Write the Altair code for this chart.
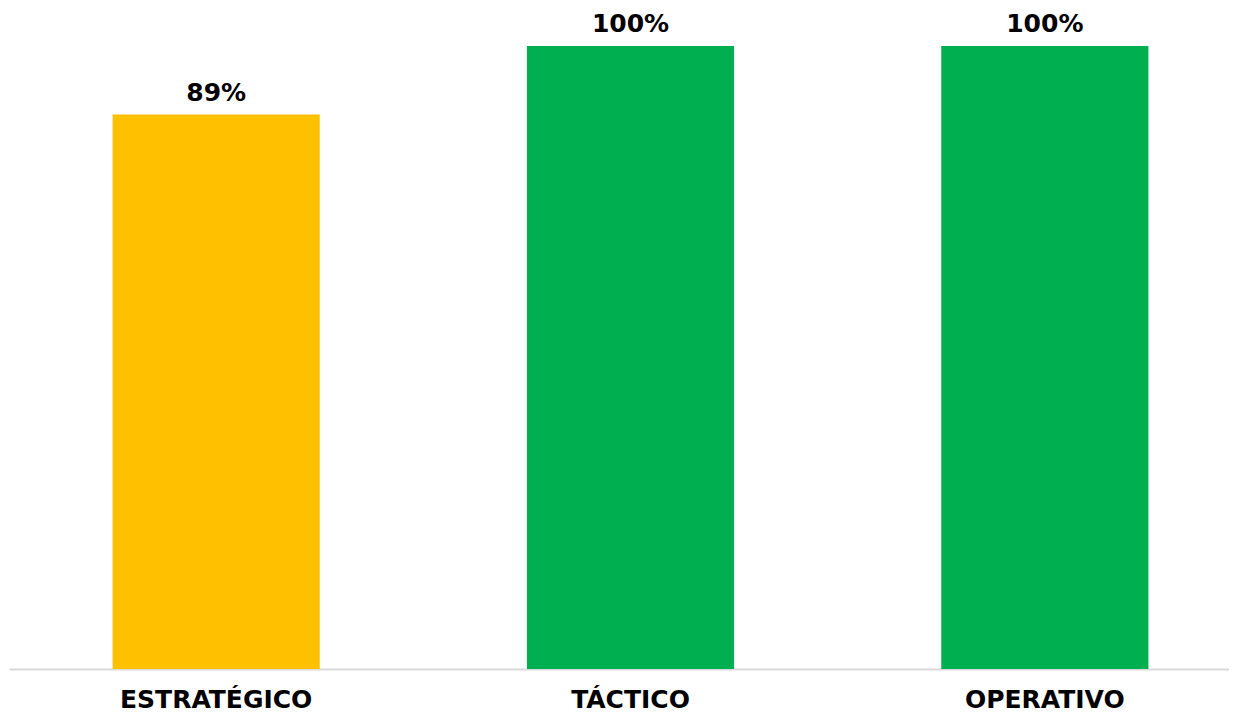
import altair as alt
import pandas as pd

categories = ["ESTRATÉGICO", "TÁCTICO", "OPERATIVO"]
values = [0.89, 1.00, 1.00]
colors = ["#FFC000", "#00B050", "#00B050"]

df = pd.DataFrame({"cat": categories, "val": values, "color": colors})

x = alt.X("cat:N", sort=categories, title=None,
          scale=alt.Scale(range=[0, 1243], paddingInner=0.5, paddingOuter=0.25),
          axis=alt.Axis(labelAngle=0, ticks=False, domainColor="#D9D9D9", domainWidth=2,
                        labelFont="DejaVu Sans", labelFontWeight="bold", labelFontSize=25,
                        labelColor="#000000", labelPadding=18, labelLimit=400, grid=False))
y = alt.Y("val:Q", title=None, scale=alt.Scale(domain=[0, 1], nice=False), axis=None)

bars = alt.Chart(df).mark_bar().encode(
    x=x, y=y, color=alt.Color("color:N", scale=None)
)
labels = alt.Chart(df).mark_text(
    font="DejaVu Sans", fontWeight="bold", fontSize=25, baseline="alphabetic", dy=-14, color="#000000"
).encode(x=alt.X("cat:N", sort=categories), y=y, text=alt.Text("val:Q", format=".0%"))

chart = alt.layer(bars, labels).properties(
    width=1220, height=623,
    autosize=alt.AutoSizeParams(type="none"),
    padding={"left": 1, "top": 38, "right": 0, "bottom": 46},
).configure_view(stroke=None)

chart.save("out.html", embed_options={"renderer": "svg", "actions": False})
